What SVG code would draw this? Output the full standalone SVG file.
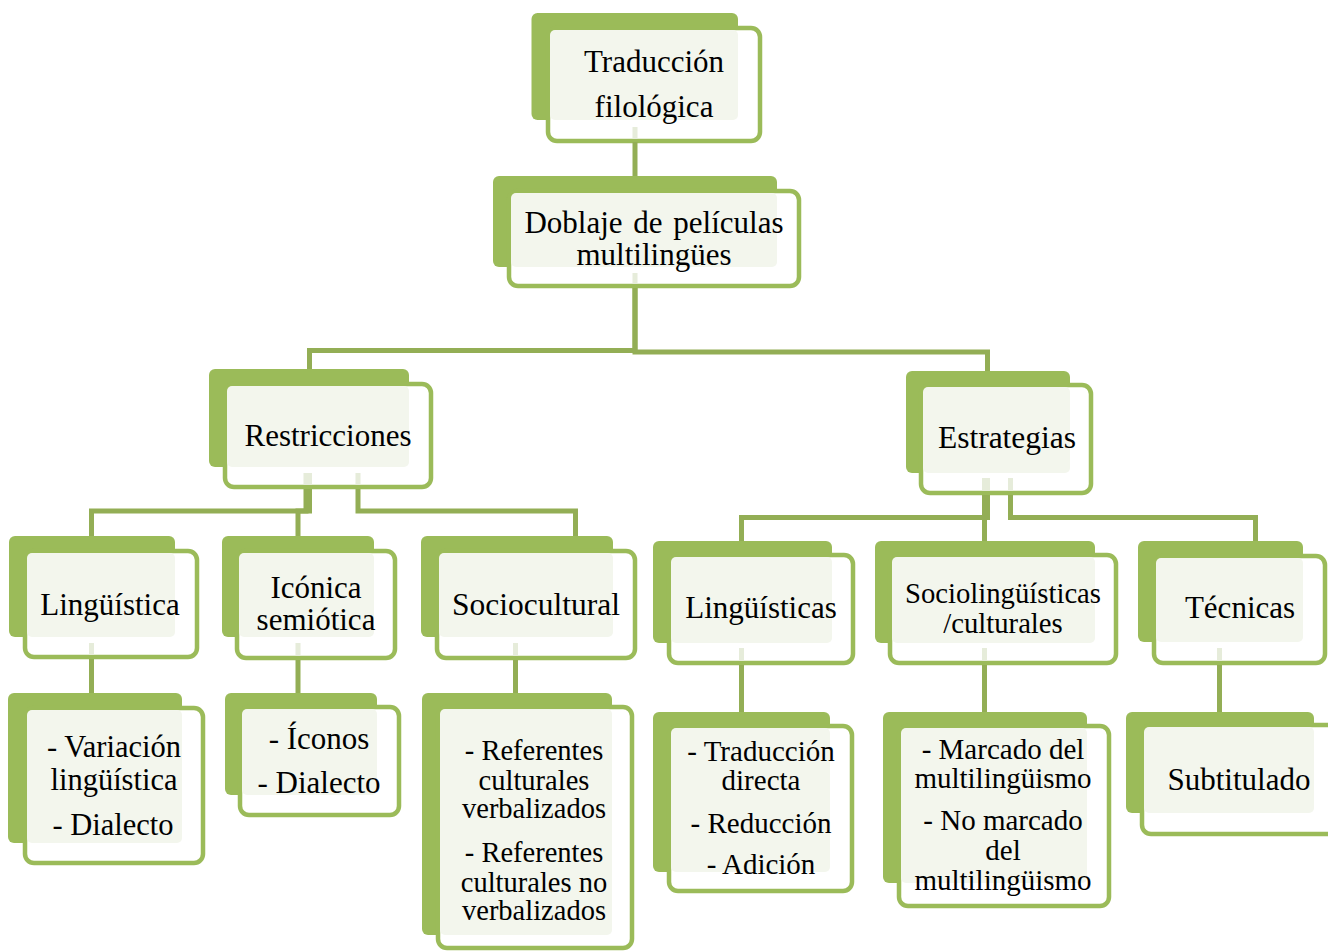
<svg xmlns="http://www.w3.org/2000/svg" width="1328" height="952" viewBox="0 0 1328 952">
<style>
.bk{fill:#9BBB59}
.fr{fill:#FFFFFF;stroke:#9BBB59;stroke-width:4.5}
.pl{fill:#F3F6ED}
.t{font-family:"Liberation Serif","Times New Roman",serif;fill:#000;text-anchor:middle;font-size:31px}
.c{fill:none;stroke:#93AE55;stroke-width:5}
.f{fill:none;stroke:#E6ECDA;stroke-width:5}
</style>
<rect width="1328" height="952" fill="#FFFFFF"/>
<g id="n1">
<rect class="bk" x="531.5" y="13" width="206.5" height="107" rx="6"/>
<rect class="fr" x="548" y="28" width="212" height="113" rx="9"/>
<rect class="pl" x="550" y="30" width="188" height="90" rx="5"/>
<text class="t" x="654" y="72">Traducción</text>
<text class="t" x="654" y="117">filológica</text>
</g>
<g id="n2">
<rect class="bk" x="493" y="176" width="284" height="91" rx="6"/>
<rect class="fr" x="509" y="191" width="290" height="95" rx="9"/>
<rect class="pl" x="511" y="193" width="266" height="74" rx="5"/>
<text class="t" x="654" y="233" word-spacing="3">Doblaje de películas</text>
<text class="t" x="654" y="265">multilingües</text>
</g>
<g id="n3">
<rect class="bk" x="209" y="369" width="200" height="98" rx="6"/>
<rect class="fr" x="225" y="384" width="206" height="103" rx="9"/>
<rect class="pl" x="227" y="386" width="182" height="81" rx="5"/>
<text class="t" x="328" y="446">Restricciones</text>
</g>
<g id="n4">
<rect class="bk" x="906" y="371" width="164" height="102" rx="6"/>
<rect class="fr" x="921" y="385" width="170" height="108" rx="9"/>
<rect class="pl" x="923" y="387" width="147" height="86" rx="5"/>
<text class="t" x="1007" y="448" style="font-size:31.5px">Estrategias</text>
</g>
<g id="n5">
<rect class="bk" x="9" y="536" width="166" height="101" rx="6"/>
<rect class="fr" x="25" y="551" width="172" height="106" rx="9"/>
<rect class="pl" x="27" y="553" width="148" height="84" rx="5"/>
<text class="t" x="110" y="615">Lingüística</text>
</g>
<g id="n6">
<rect class="bk" x="222" y="536" width="152" height="101" rx="6"/>
<rect class="fr" x="237" y="551" width="158" height="107" rx="9"/>
<rect class="pl" x="239" y="553" width="135" height="84" rx="5"/>
<text class="t" x="316" y="598">Icónica</text>
<text class="t" x="316" y="630">semiótica</text>
</g>
<g id="n7">
<rect class="bk" x="421" y="536" width="192" height="101" rx="6"/>
<rect class="fr" x="437" y="551" width="198" height="107" rx="9"/>
<rect class="pl" x="439" y="553" width="174" height="84" rx="5"/>
<text class="t" x="536" y="615" style="font-size:31.5px">Sociocultural</text>
</g>
<g id="n8">
<rect class="bk" x="653" y="541" width="179" height="102" rx="6"/>
<rect class="fr" x="669" y="555" width="184" height="108" rx="9"/>
<rect class="pl" x="671" y="557" width="161" height="86" rx="5"/>
<text class="t" x="761" y="618">Lingüísticas</text>
</g>
<g id="n9">
<rect class="bk" x="875" y="541" width="220" height="102" rx="6"/>
<rect class="fr" x="890" y="555" width="226" height="108" rx="9"/>
<rect class="pl" x="892" y="557" width="203" height="86" rx="5"/>
<text class="t" x="1003" y="603" style="font-size:28.7px">Sociolingüísticas</text>
<text class="t" x="1003" y="633" style="font-size:28.7px">/culturales</text>
</g>
<g id="n10">
<rect class="bk" x="1138" y="541" width="165" height="101" rx="6"/>
<rect class="fr" x="1154" y="556" width="171" height="107" rx="9"/>
<rect class="pl" x="1156" y="558" width="147" height="84" rx="5"/>
<text class="t" x="1240" y="618">Técnicas</text>
</g>
<g id="n11">
<rect class="bk" x="8" y="693" width="174" height="150" rx="6"/>
<rect class="fr" x="25" y="708" width="178" height="155" rx="9"/>
<rect class="pl" x="27" y="710" width="155" height="133" rx="5"/>
<text class="t" x="114" y="757" style="font-size:30.5px">- Variación</text>
<text class="t" x="114" y="790" style="font-size:30.5px">lingüística</text>
<text class="t" x="113" y="835" style="font-size:30.5px">- Dialecto</text>
</g>
<g id="n12">
<rect class="bk" x="225" y="693" width="152" height="102" rx="6"/>
<rect class="fr" x="240" y="707" width="159" height="108" rx="9"/>
<rect class="pl" x="242" y="709" width="135" height="86" rx="5"/>
<text class="t" x="319" y="749">- Íconos</text>
<text class="t" x="319" y="793">- Dialecto</text>
</g>
<g id="n13">
<rect class="bk" x="422" y="693" width="190" height="242" rx="6"/>
<rect class="fr" x="438" y="707" width="194" height="241" rx="9"/>
<rect class="pl" x="440" y="709" width="172" height="226" rx="5"/>
<text class="t" x="534" y="760" style="font-size:28.5px">- Referentes</text>
<text class="t" x="534" y="790" style="font-size:28.5px">culturales</text>
<text class="t" x="534" y="818" style="font-size:28.5px">verbalizados</text>
<text class="t" x="534" y="862" style="font-size:28.5px">- Referentes</text>
<text class="t" x="534" y="892" style="font-size:28.5px">culturales no</text>
<text class="t" x="534" y="920" style="font-size:28.5px">verbalizados</text>
</g>
<g id="n14">
<rect class="bk" x="653" y="712" width="177" height="160" rx="6"/>
<rect class="fr" x="669" y="726" width="183" height="165" rx="9"/>
<rect class="pl" x="671" y="728" width="159" height="144" rx="5"/>
<text class="t" x="761" y="761" style="font-size:29px">- Traducción</text>
<text class="t" x="761" y="790" style="font-size:29px">directa</text>
<text class="t" x="761" y="833" style="font-size:29px">- Reducción</text>
<text class="t" x="761" y="874" style="font-size:29px">- Adición</text>
</g>
<g id="n15">
<rect class="bk" x="883" y="712" width="204" height="171" rx="6"/>
<rect class="fr" x="899" y="726" width="210" height="180" rx="9"/>
<rect class="pl" x="901" y="728" width="186" height="155" rx="5"/>
<text class="t" x="1003" y="759" style="font-size:29px">- Marcado del</text>
<text class="t" x="1003" y="788" style="font-size:29px">multilingüismo</text>
<text class="t" x="1003" y="830" style="font-size:29px">- No marcado</text>
<text class="t" x="1003" y="860" style="font-size:29px">del</text>
<text class="t" x="1003" y="890" style="font-size:29px">multilingüismo</text>
</g>
<g id="n16">
<rect class="bk" x="1126" y="712" width="188" height="101" rx="6"/>
<rect class="fr" x="1142" y="725" width="200" height="109" rx="9"/>
<rect class="pl" x="1144" y="727" width="170" height="86" rx="5"/>
<text class="t" x="1239" y="790">Subtitulado</text>
</g>
<g id="connectors">
<path class="f" d="M635,127 V139 M635,273 V284 M306,473 V485 M309.5,473 V485 M358,473 V485 M984.5,478 V491 M987.5,478 V491 M1010.5,478 V491 M91.5,643 V655 M298,643 V656 M515.5,643 V656 M741.5,648 V661 M984.5,648 V661 M1219.5,648 V661"/>
<path class="c" d="M635,142 V176"/>
<path class="c" d="M635,288 V350.5 H309.5 V369"/>
<path class="c" d="M635,288 V352 H987.5 V371"/>
<path class="c" d="M306,489 V511 H91.5 V536"/>
<path class="c" d="M309.5,489 V511 H298 V536"/>
<path class="c" d="M358,489 V511 H575.5 V536"/>
<path class="c" d="M91.5,659 V693"/>
<path class="c" d="M298,660 V693"/>
<path class="c" d="M515.5,660 V693"/>
<path class="c" d="M984.5,495 V517.5 H741.5 V541"/>
<path class="c" d="M987.5,495 V517.5 H984.5 V541"/>
<path class="c" d="M1010.5,495 V517.5 H1255.5 V541"/>
<path class="c" d="M741.5,665 V712"/>
<path class="c" d="M984.5,665 V712"/>
<path class="c" d="M1219.5,665 V712"/>
</g>
</svg>
